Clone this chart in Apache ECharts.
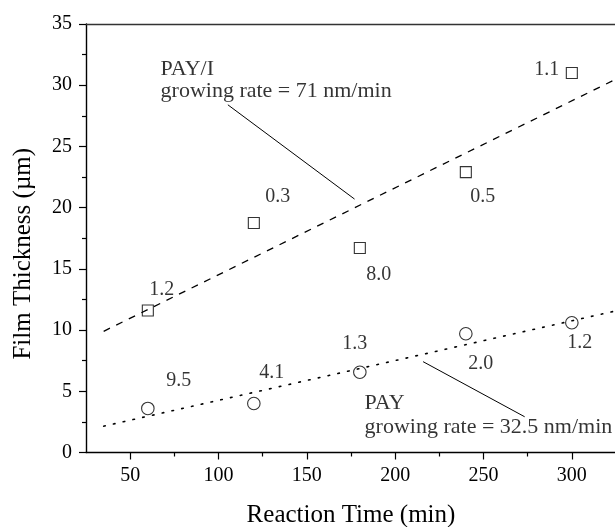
<!DOCTYPE html>
<html>
<head>
<meta charset="utf-8">
<script src="https://cdn.jsdelivr.net/npm/echarts@6/dist/echarts.min.js"></script>
<style>
  html, body { margin: 0; padding: 0; background: #fff; }
  #chart { width: 615px; height: 527px; }
</style>
</head>
<body>
<div id="chart"></div>
<script>
// Measured film thickness (µm) against reaction time (min)
const reactionTime = [60, 120, 180, 240, 300];
const payIThickness = [11.6, 18.75, 16.7, 22.9, 31.0];
const payIValues = ['1.2', '0.3', '8.0', '0.5', '1.1'];
const payThickness = [3.6, 4.0, 6.55, 9.7, 10.6];
const payValues = ['9.5', '4.1', '1.3', '2.0', '1.2'];

// Linear fits (end points of each fitted line)
const fitTime = [35, 325];
const payIFit = [9.9, 30.5];
const payFit = [2.15, 11.57];

// Axis ticks
const xTicks = [50, 100, 150, 200, 250, 300];
const xMinorTicks = [75, 125, 175, 225, 275];

// Annotation anchors (data units) and label offsets (px)
const payIArrow = [[105.3, 28.4], [177.0, 20.7]];
const payArrow = [[273.3, 2.92], [215.8, 7.42]];
const payINoteAt = [67.2, 30.43];
const payNoteAt = [182.7, 3.06];
const payILabelOffset = [[14, -21], [24, -26], [19, 27], [17, 25], [-25, -3]];
const payLabelOffset = [[31, -28], [18, -31], [-5, -29], [15, 30], [8, 20]];

const FONT = 'Liberation Serif';
const INK = '#000';

function points(ys, texts, offsets) {
  return reactionTime.map((t, i) => ({
    value: [t, ys[i]],
    label: { formatter: texts[i], offset: offsets[i] }
  }));
}

const chart = echarts.init(document.getElementById('chart'), null, { renderer: 'canvas' });

chart.setOption({
  animation: false,
  backgroundColor: '#fff',
  grid: { left: 86, top: 24, width: 530, height: 428.5, containLabel: false, outerBoundsMode: 'none' },
  xAxis: [
    {
      type: 'value', min: 25, max: 325, position: 'bottom',
      name: 'Reaction Time (min)', nameLocation: 'middle', nameGap: 50,
      nameTextStyle: { fontFamily: FONT, fontSize: 25, color: INK },
      axisLine: { show: true, onZero: false, lineStyle: { color: INK, width: 1.4 } },
      axisTick: { show: true, inside: false, length: 7, customValues: xTicks, lineStyle: { color: INK, width: 1.2 } },
      axisLabel: { show: true, customValues: xTicks, margin: 13, fontFamily: FONT, fontSize: 20, color: INK },
      splitLine: { show: false }
    },
    {
      type: 'value', min: 25, max: 325, position: 'bottom',
      axisLine: { show: false },
      axisTick: { show: true, inside: false, length: 4, customValues: xMinorTicks, lineStyle: { color: INK, width: 1.2 } },
      axisLabel: { show: false },
      splitLine: { show: false }
    },
    {
      type: 'value', min: 25, max: 325, position: 'top',
      axisLine: { show: true, onZero: false, lineStyle: { color: '#333', width: 1.4 } },
      axisTick: { show: false },
      axisLabel: { show: false },
      splitLine: { show: false }
    }
  ],
  yAxis: {
    type: 'value', min: 0, max: 35, interval: 5,
    name: 'Film Thickness (µm)', nameLocation: 'middle', nameGap: 50, nameRotate: 90,
    nameTextStyle: { fontFamily: FONT, fontSize: 25, color: INK, padding: [0, 31, 0, 0] },
    axisLine: { show: true, onZero: false, lineStyle: { color: INK, width: 1.4 } },
    axisTick: { show: true, inside: false, length: 7, lineStyle: { color: INK, width: 1.2 } },
    minorTick: { show: true, splitNumber: 2, length: 4, lineStyle: { color: INK, width: 1.2 } },
    axisLabel: { margin: 14, fontFamily: FONT, fontSize: 20, color: INK },
    splitLine: { show: false }
  },
  series: [
    {
      name: 'PAY/I fit', type: 'line', xAxisIndex: 0, symbol: 'none', silent: true,
      data: fitTime.map((t, i) => [t, payIFit[i]]),
      lineStyle: { color: INK, width: 1.3, type: [7, 7] },
      markLine: {
        silent: true, symbol: ['none', 'arrow'], symbolSize: [0, 9],
        lineStyle: { color: INK, width: 1, type: 'solid' },
        label: { show: false },
        data: [[{ coord: payIArrow[0] }, { coord: payIArrow[1] }]]
      }
    },
    {
      name: 'PAY fit', type: 'line', xAxisIndex: 0, symbol: 'none', silent: true,
      data: fitTime.map((t, i) => [t, payFit[i]]),
      lineStyle: { color: INK, width: 1.6, type: [1.6, 8.4], cap: 'round' },
      markLine: {
        silent: true, symbol: ['none', 'arrow'], symbolSize: [0, 9],
        lineStyle: { color: INK, width: 1, type: 'solid' },
        label: { show: false },
        data: [[{ coord: payArrow[0] }, { coord: payArrow[1] }]]
      }
    },
    {
      name: 'PAY/I', type: 'scatter', xAxisIndex: 0, symbol: 'rect', symbolSize: 11,
      itemStyle: { color: 'rgba(0,0,0,0)', borderColor: INK, borderWidth: 1.1 },
      label: { show: true, position: 'inside', fontFamily: FONT, fontSize: 20, color: INK },
      data: points(payIThickness, payIValues, payILabelOffset)
    },
    {
      name: 'PAY', type: 'scatter', xAxisIndex: 0, symbol: 'circle', symbolSize: 12.5,
      itemStyle: { color: 'rgba(0,0,0,0)', borderColor: INK, borderWidth: 1.1 },
      label: { show: true, position: 'inside', fontFamily: FONT, fontSize: 20, color: INK },
      data: points(payThickness, payValues, payLabelOffset)
    },
    {
      name: 'notes', type: 'scatter', xAxisIndex: 0, symbolSize: 0, silent: true,
      label: {
        show: true, position: 'right', distance: 0, align: 'left',
        fontFamily: FONT, fontSize: 22, color: INK
      },
      data: [
        { value: payINoteAt, label: { formatter: 'PAY/I\ngrowing rate = 71 nm/min', lineHeight: 22 } },
        { value: payNoteAt, label: { formatter: 'PAY\ngrowing rate = 32.5 nm/min', lineHeight: 23.5 } }
      ]
    }
  ]
});
</script>
</body>
</html>
